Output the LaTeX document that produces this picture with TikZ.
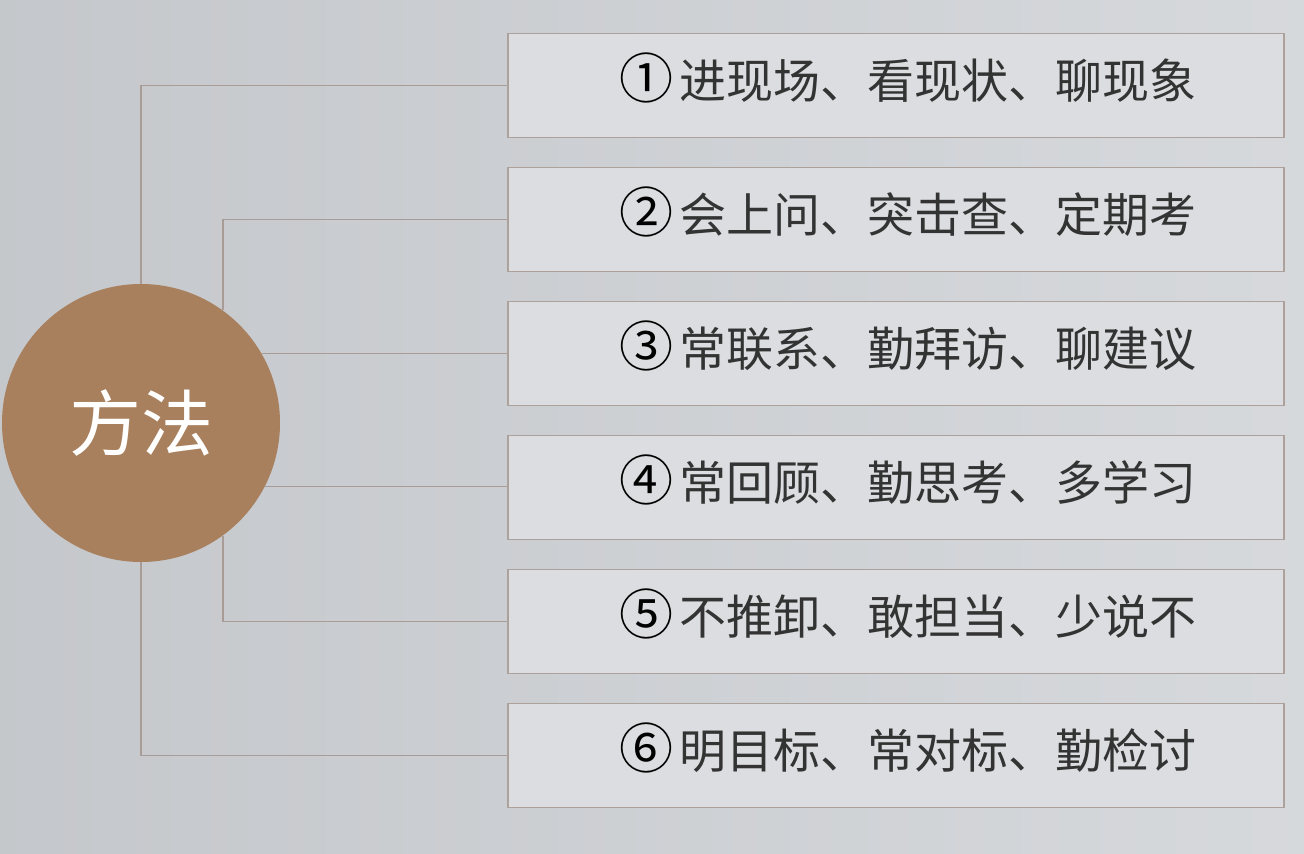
\documentclass[tikz,border=0pt]{standalone}
\usepackage{fontspec}
\setmainfont{Noto Sans CJK SC}
\definecolor{bgcol}{HTML}{CFD2D6}
\definecolor{boxfill}{HTML}{DCDDE0}
\definecolor{boxline}{HTML}{ADA19B}
\definecolor{linkcol}{HTML}{A99C96}
\definecolor{hubfill}{HTML}{A8805D}
\definecolor{textcol}{HTML}{333333}
\newcommand{\methodnum}[1]{{\fontsize{27}{28}\selectfont\color{black}#1}\hspace{3pt}}
\begin{document}
\begin{tikzpicture}[x=0.5pt,y=-0.5pt,
        method/.style = {draw=boxline, fill=boxfill, line width=0.7pt,
            minimum width=388pt, minimum height=52pt, inner sep=0pt},
        methodtext/.style = {anchor=west, inner sep=0pt, text=textcol,
            font=\fontsize{23.5}{27}\selectfont},
        link/.style = {draw=linkcol, line width=0.7pt},
        hub/.style = {circle, fill=hubfill, minimum size=139pt, inner sep=0pt,
            text=white, font=\fontsize{36}{40}\selectfont}
    ]

    % Background
    \useasboundingbox (0,0) rectangle (1304,854);
    \fill[left color=bgcol!95!black, right color=bgcol!85!white] (0,0) rectangle (1304,854);

    % Method boxes
    \foreach \n/\t [count=\i] in {①/进现场、看现状、聊现象, ②/会上问、突击查、定期考,
            ③/常联系、勤拜访、聊建议, ④/常回顾、勤思考、多学习,
            ⑤/不推卸、敢担当、少说不, ⑥/明目标、常对标、勤检讨}{
        \node[method] (b\i) at (896,{85.5+(\i-1)*134}) {};
        \node[methodtext] (t\i) at ([xshift=56pt,yshift=4pt]b\i.west) {\methodnum{\n}\t};
    }

    % Centre
    \node[hub] (hub) at (141,423) {方法};

    % Connectors
    \draw[link] (hub.north) |- (b1.west);
    \draw[link] (hub.54) |- (b2.west);
    \draw[link] (hub.30) -- (hub.30 -| b3.west);
    \draw[link] (hub.-27) -- (hub.-27 -| b4.west);
    \draw[link] (hub.-54) |- (b5.west);
    \draw[link] (hub.south) |- (b6.west);

\end{tikzpicture}
\end{document}
